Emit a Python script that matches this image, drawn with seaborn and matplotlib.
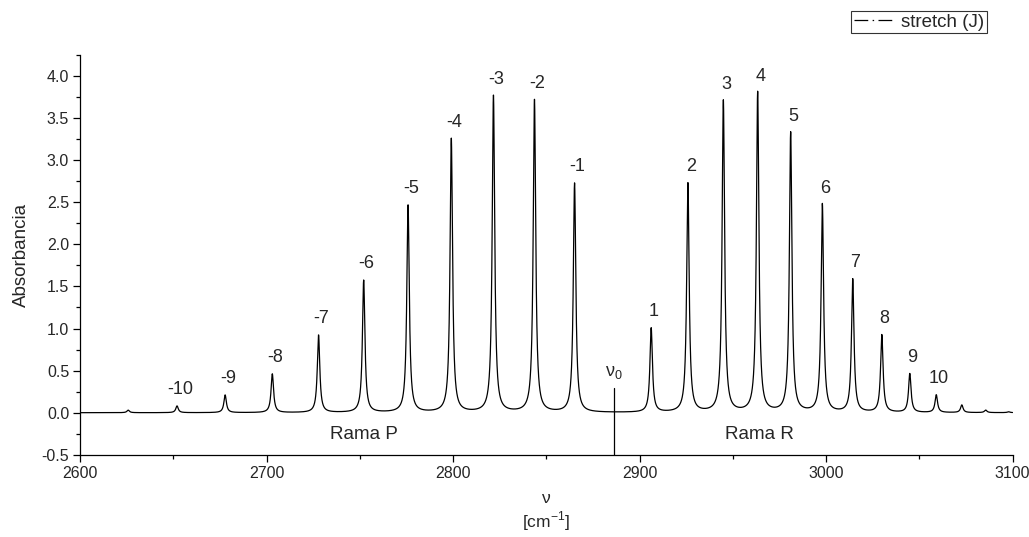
import numpy as np
import pandas as pd
import matplotlib
import matplotlib.pyplot as plt
from matplotlib.lines import Line2D
from matplotlib.ticker import MultipleLocator, FormatStrFormatter
import seaborn as sns

matplotlib.use("Agg")

# P branch (J = -1 ... -11) and R branch (J = 1 ... 13): centres in cm-1, heights
p_labels = ["-1", "-2", "-3", "-4", "-5", "-6", "-7", "-8", "-9", "-10", ""]
p_centers = [2865.1, 2843.6, 2821.6, 2799.0, 2775.8, 2752.0, 2727.8, 2703.0, 2677.7, 2651.9, 2625.7]
p_heights = [2.72, 3.71, 3.76, 3.25, 2.46, 1.57, 0.92, 0.46, 0.21, 0.08, 0.03]

r_labels = ["1", "2", "3", "4", "5", "6", "7", "8", "9", "10", "", "", ""]
r_centers = [2906.2, 2925.9, 2944.9, 2963.3, 2981.0, 2998.0, 3014.3, 3029.9, 3044.9, 3059.1,
             3072.8, 3085.6, 3097.9]
r_heights = [1.00, 2.72, 3.70, 3.80, 3.32, 2.47, 1.58, 0.92, 0.46, 0.21, 0.09, 0.03, 0.01]

nu0 = 2886.0
half_width = 0.8  # lorentzian HWHM, cm-1


def build_spectrum():
    wn = np.linspace(2600, 3100, 20001)
    absb = np.zeros_like(wn)
    for c, h in zip(p_centers + r_centers, p_heights + r_heights):
        absb += h * half_width**2 / ((wn - c) ** 2 + half_width**2)
    return pd.DataFrame({"nu": wn, "A": absb})


def plot_spectrum():
    sns.set_style("ticks")
    plt.rcParams["font.family"] = ["Liberation Sans", "DejaVu Sans"]

    fig = plt.figure(figsize=(10.29, 5.37), dpi=100)
    ax = fig.add_axes([0.078, 0.153, 0.906, 0.745])

    spec = build_spectrum()
    sns.lineplot(data=spec, x="nu", y="A", color="black", lw=0.9, estimator=None, ax=ax)

    for lab, c, h in zip(p_labels + r_labels, p_centers + r_centers, p_heights + r_heights):
        if lab:
            ax.annotate(lab, xy=(c, h), xytext=(2, 12), textcoords="offset points",
                        ha="center", va="center", fontsize=13)

    # band origin marker
    ax.plot([nu0, nu0], [-0.5, 0.29], color="black", lw=0.9)
    ax.text(nu0, 0.48, r"$\mathregular{\nu_0}$", ha="center", va="center", fontsize=13)

    ax.text(2752, -0.26, "Rama P", ha="center", va="center", fontsize=13.5)
    ax.text(2964, -0.26, "Rama R", ha="center", va="center", fontsize=13.5)

    ax.set_xlim(2600, 3100)
    ax.set_ylim(-0.5, 4.25)
    ax.xaxis.set_major_locator(MultipleLocator(100))
    ax.xaxis.set_minor_locator(MultipleLocator(50))
    ax.yaxis.set_major_locator(MultipleLocator(0.5))
    ax.yaxis.set_minor_locator(MultipleLocator(0.25))
    ax.yaxis.set_major_formatter(FormatStrFormatter("%.1f"))
    ax.tick_params(which="major", length=5, width=0.9, labelsize=11.5, color="black", pad=3)
    ax.tick_params(which="minor", length=3, width=0.9, color="black")

    sns.despine(ax=ax)
    for s in ["left", "bottom"]:
        ax.spines[s].set_color("black")
        ax.spines[s].set_linewidth(0.9)

    ax.set_xlabel("ν\n[cm$^{\\mathregular{-1}}$]", fontsize=12.5, labelpad=7, linespacing=1.2)
    ax.set_ylabel("Absorbancia", fontsize=13.5, labelpad=8)

    handle = Line2D([], [], color="black", lw=0.9, linestyle=(0, (11, 3.5, 1.2, 3.5)))
    leg = fig.legend([handle], ["stretch (J)"], loc="upper right",
                     bbox_to_anchor=(0.959, 0.98), frameon=True, fancybox=False,
                     fontsize=13.5, handlelength=2.2, handletextpad=0.3,
                     borderpad=0.15, borderaxespad=0)
    leg.get_frame().set_edgecolor("black")
    leg.get_frame().set_linewidth(0.8)

    fig.savefig("out.png", dpi=100)


if __name__ == "__main__":
    plot_spectrum()
